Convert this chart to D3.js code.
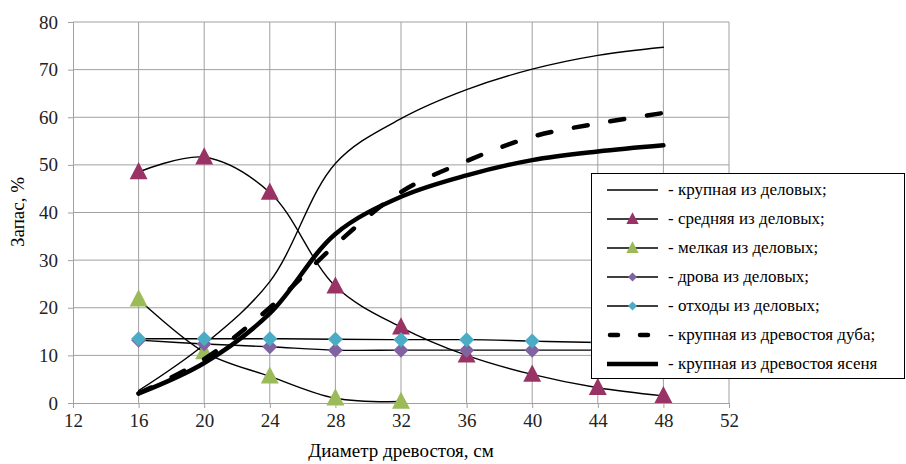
<!DOCTYPE html>
<html>
<head>
<meta charset="utf-8">
<script src="https://cdn.jsdelivr.net/npm/d3@7"></script>
<style>
  body { margin: 0; background: #fff; }
  text { font-family: "Liberation Serif", serif; }
</style>
</head>
<body>
<svg width="906" height="464"></svg>
<script>
// диаметры, см
const diam = [16, 20, 24, 28, 32, 36, 40, 44, 48];
const xTicks = [12, 16, 20, 24, 28, 32, 36, 40, 44, 48, 52];
const yTicks = [0, 10, 20, 30, 40, 50, 60, 70, 80];

// запас, %
const krupDel  = [2.6, 12.3, 25.5, 50.3, 59.7, 65.8, 70.1, 73, 74.7];
const srednDel = [48.5, 51.6, 44.2, 24.5, 15.9, 10, 6, 3.2, 1.5];
const melkDel  = [21.8, 10.7, 5.6, 1.0, 0.3];
const drovaDel = [13.2, 12.4, 11.8, 11.1, 11.1, 11.1, 11.1, 11.1, 11.1];
const othodDel = [13.5, 13.5, 13.5, 13.4, 13.3, 13.3, 13.0, 12.7, 12.5];
const krupDub  = [2, 9.2, 20, 33.2, 44.3, 50.8, 55.9, 58.7, 60.9];
const krupYas  = [2, 8.4, 18.8, 35.5, 43.3, 47.8, 51, 52.8, 54.1];

const legendNames = [
  "- крупная из деловых;",
  "- средняя из деловых;",
  "- мелкая из деловых;",
  "- дрова из деловых;",
  "- отходы из деловых;",
  "- крупная из древостоя дуба;",
  "-  крупная из древостоя ясеня"
];

const series = [
  {vals: krupDel,  w: 1.4, dash: null, marker: null},
  {vals: srednDel, w: 1.4, dash: null, marker: "tri", color: "#993366"},
  {vals: melkDel,  w: 1.4, dash: null, marker: "tri", color: "#9bbb59"},
  {vals: drovaDel, w: 1.4, dash: null, marker: "dia", color: "#8064a2"},
  {vals: othodDel, w: 1.4, dash: null, marker: "dia", color: "#4bacc6"},
  {vals: krupDub,  w: 4.5, dash: "14,23", marker: null},
  {vals: krupYas,  w: 4.5, dash: null, marker: null}
];

const svg = d3.select("svg");
const x = d3.scaleLinear().domain([12, 52]).range([73, 729]);
const y = d3.scaleLinear().domain([0, 80]).range([403, 22]);
const gridColor = "#a0a0a0";

// сетка
svg.append("g").selectAll("line").data(xTicks.slice(1)).enter().append("line")
  .attr("x1", d => x(d)).attr("x2", d => x(d))
  .attr("y1", y(0)).attr("y2", y(80))
  .attr("stroke", gridColor).attr("stroke-width", 1);
svg.append("g").selectAll("line").data(yTicks.slice(1)).enter().append("line")
  .attr("x1", x(12)).attr("x2", x(52))
  .attr("y1", d => y(d)).attr("y2", d => y(d))
  .attr("stroke", gridColor).attr("stroke-width", 1);

// оси
const xAxis = svg.append("g").attr("transform", `translate(0,${y(0)})`)
  .call(d3.axisBottom(x).tickValues(xTicks).tickSize(5).tickPadding(6));
const yAxis = svg.append("g").attr("transform", `translate(${x(12)},0)`)
  .call(d3.axisLeft(y).tickValues(yTicks).tickSize(5).tickPadding(10));
[xAxis, yAxis].forEach(a => {
  a.attr("font-family", null).attr("font-size", null);
  a.select(".domain").attr("stroke", gridColor);
  a.selectAll(".tick line").attr("stroke", gridColor);
  a.selectAll("text").attr("fill", "#222").style("font-size", "19px");
});

svg.append("text").attr("x", 401).attr("y", 457).attr("text-anchor", "middle")
  .style("font-size", "19px").text("Диаметр древостоя, см");
svg.append("text").attr("transform", "translate(24,212) rotate(-90)").attr("text-anchor", "middle")
  .style("font-size", "19px").text("Запас, %");

const line = d3.line().x((d, i) => x(diam[i])).y(d => y(d)).curve(d3.curveCatmullRom);

function drawMarker(g, type, color, cx, cy, s) {
  if (type === "tri") {
    g.append("path")
      .attr("d", `M${cx},${cy - s * 0.62}L${cx + s * 0.56},${cy + s * 0.45}L${cx - s * 0.56},${cy + s * 0.45}Z`)
      .attr("fill", color);
  } else if (type === "dia") {
    g.append("path")
      .attr("d", `M${cx},${cy - s / 2}L${cx + s / 2},${cy}L${cx},${cy + s / 2}L${cx - s / 2},${cy}Z`)
      .attr("fill", color);
  }
}

series.forEach(s => {
  const g = svg.append("g");
  g.append("path").datum(s.vals).attr("d", line)
    .attr("fill", "none").attr("stroke", "#000")
    .attr("stroke-width", s.w)
    .attr("stroke-linecap", "round")
    .attr("stroke-dasharray", s.dash);
  if (s.marker) {
    s.vals.forEach((v, i) => drawMarker(g, s.marker, s.color, x(diam[i]), y(v), s.marker === "tri" ? 16 : 15));
  }
});

// легенда
const lg = svg.append("g");
lg.append("rect").attr("x", 591.5).attr("y", 173.5).attr("width", 313).attr("height", 205)
  .attr("fill", "#fff").attr("stroke", "#000").attr("stroke-width", 1);
legendNames.forEach((name, i) => {
  const s = series[i];
  const cy = 190 + i * 29;
  lg.append("line").attr("x1", 607).attr("x2", 658).attr("y1", cy).attr("y2", cy)
    .attr("stroke", "#000").attr("stroke-width", s.w)
    .attr("stroke-linecap", s.dash ? "round" : "butt")
    .attr("stroke-dasharray", s.dash ? "8,22" : null)
    .attr("transform", s.dash ? "translate(3,0)" : null);
  if (s.marker) drawMarker(lg, s.marker, s.color, 632.5, cy, s.marker === "tri" ? 11 : 9);
  lg.append("text").attr("x", 668).attr("y", cy + 5)
    .style("font-size", "17px").text(name);
});
</script>
</body>
</html>
